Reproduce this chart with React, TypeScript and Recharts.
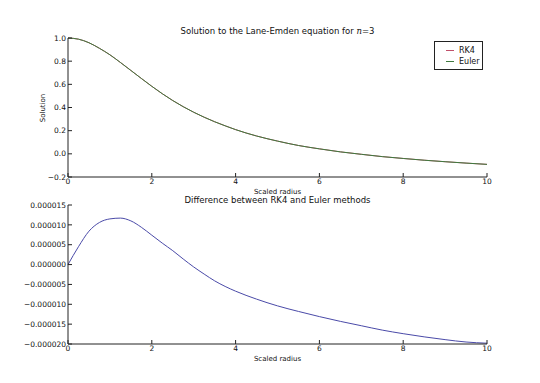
import React from "react";
import { LineChart, Line, XAxis, YAxis } from "recharts";

// scaled radius samples
const radius = [
  0, 0.25, 0.5, 0.75, 1, 1.25, 1.5, 1.75, 2, 2.25, 2.5, 2.75, 3, 3.25, 3.5,
  3.75, 4, 4.5, 5, 5.5, 6, 6.5, 7, 7.5, 8, 8.5, 9, 9.5, 10,
];

// theta(xi)
const rk4 = [
  1.0, 0.99, 0.959, 0.911, 0.855, 0.789, 0.72, 0.651, 0.583, 0.519, 0.46,
  0.407, 0.359, 0.316, 0.277, 0.242, 0.209, 0.154, 0.11, 0.072, 0.043, 0.017,
  -0.004, -0.024, -0.04, -0.055, -0.068, -0.08, -0.091,
];
const euler = [
  1.0, 0.99, 0.959, 0.911, 0.855, 0.789, 0.72, 0.651, 0.583, 0.519, 0.46,
  0.407, 0.359, 0.316, 0.277, 0.242, 0.209, 0.154, 0.11, 0.072, 0.043, 0.017,
  -0.004, -0.024, -0.04, -0.055, -0.068, -0.08, -0.091,
];

// RK4 - Euler, in units of 1e-6
const diffMicro = [
  0, 4.5, 8.4, 10.6, 11.5, 11.7, 11.0, 9.4, 7.4, 5.4, 3.5, 1.4, -0.6, -2.4,
  -4.1, -5.5, -6.7, -8.7, -10.4, -11.8, -13.1, -14.3, -15.4, -16.5, -17.4,
  -18.2, -18.9, -19.5, -19.8,
];

const xTicks = [0, 2, 4, 6, 8, 10];
const topYTicks = [-0.2, 0, 0.2, 0.4, 0.6, 0.8, 1.0];
const bottomYTicks = [
  -0.00002, -0.000015, -0.00001, -0.000005, 0, 0.000005, 0.00001, 0.000015,
];

const topData = radius.map((x, i) => ({ x, rk4: rk4[i], euler: euler[i] }));
const bottomData = radius.map((x, i) => ({ x, diff: diffMicro[i] * 1e-6 }));

const font = "'DejaVu Sans', sans-serif";
const axisColor = "#222";
const tickStyle = { fontSize: 7.5, fill: "#111", fontFamily: font };
const rk4Color = "#c0506a";
const eulerColor = "#3f7a3f";

const minus = (s: string) => s.replace("-", "\u2212");

const NoLabel = () => <g />;

const textStyle: React.CSSProperties = {
  position: "absolute",
  fontFamily: font,
  color: "#111",
  whiteSpace: "nowrap",
};

const LegendBox = () => (
  <div
    style={{
      position: "absolute",
      left: 434,
      top: 41,
      width: 47,
      border: "1px solid #222",
      background: "#fff",
      padding: "3px 0 2px 0",
      fontFamily: font,
      fontSize: 8,
      color: "#111",
    }}
  >
    {[
      { name: "RK4", color: rk4Color },
      { name: "Euler", color: eulerColor },
    ].map((e) => (
      <div key={e.name} style={{ display: "flex", alignItems: "center", height: 11 }}>
        <div style={{ width: 8, height: 1, background: e.color, marginLeft: 11, marginRight: 5 }} />
        <span>{e.name}</span>
      </div>
    ))}
  </div>
);

export default function App() {
  return (
    <div style={{ position: "absolute", left: 0, top: 0, width: 540, height: 383, background: "#fff" }}>
      <div style={{ position: "absolute", left: 0, top: 0 }}>
        <LineChart width={540} height={200} data={topData} margin={{ top: 38, right: 53, left: 0, bottom: 0 }}>
          <XAxis
            dataKey="x"
            type="number"
            domain={[0, 10]}
            ticks={xTicks}
            interval={0}
            height={23}
            tickSize={-4}
            tickMargin={6}
            stroke={axisColor}
            tick={tickStyle}
          />
          <XAxis
            xAxisId="top"
            dataKey="x"
            type="number"
            orientation="top"
            domain={[0, 10]}
            ticks={xTicks}
            interval={0}
            height={0}
            tickSize={-4}
            stroke={axisColor}
            tick={NoLabel}
          />
          <YAxis
            type="number"
            domain={[-0.2, 1.0]}
            ticks={topYTicks}
            interval={0}
            width={68}
            tickSize={-4}
            tickMargin={6}
            stroke={axisColor}
            tick={tickStyle}
            tickFormatter={(v: number) => minus(v.toFixed(1))}
          />
          <YAxis
            yAxisId="right"
            orientation="right"
            type="number"
            domain={[-0.2, 1.0]}
            ticks={topYTicks}
            interval={0}
            width={0}
            tickSize={-4}
            stroke={axisColor}
            tick={NoLabel}
          />
          <Line dataKey="rk4" name="RK4" stroke={rk4Color} strokeWidth={1} dot={false} isAnimationActive={false} type="monotone" />
          <Line dataKey="euler" name="Euler" stroke={eulerColor} strokeWidth={1} dot={false} isAnimationActive={false} type="monotone" />
        </LineChart>
      </div>

      <div style={{ position: "absolute", left: 0, top: 200 }}>
        <LineChart width={540} height={170} data={bottomData} margin={{ top: 5, right: 53, left: 0, bottom: 0 }}>
          <XAxis
            dataKey="x"
            type="number"
            domain={[0, 10]}
            ticks={xTicks}
            interval={0}
            height={26}
            tickSize={-4}
            tickMargin={6}
            stroke={axisColor}
            tick={tickStyle}
          />
          <XAxis
            xAxisId="top"
            dataKey="x"
            type="number"
            orientation="top"
            domain={[0, 10]}
            ticks={xTicks}
            interval={0}
            height={0}
            tickSize={-4}
            stroke={axisColor}
            tick={NoLabel}
          />
          <YAxis
            type="number"
            domain={[-0.00002, 0.000015]}
            ticks={bottomYTicks}
            interval={0}
            width={68}
            tickSize={-4}
            tickMargin={6}
            stroke={axisColor}
            tick={tickStyle}
            tickFormatter={(v: number) => minus(v.toFixed(6))}
          />
          <YAxis
            yAxisId="right"
            orientation="right"
            type="number"
            domain={[-0.00002, 0.000015]}
            ticks={bottomYTicks}
            interval={0}
            width={0}
            tickSize={-4}
            stroke={axisColor}
            tick={NoLabel}
          />
          <Line dataKey="diff" stroke="#4a4aa8" strokeWidth={1} dot={false} isAnimationActive={false} type="monotone" />
        </LineChart>
      </div>

      <LegendBox />

      <div style={{ ...textStyle, left: 0, width: 555, top: 26, fontSize: 8.5, textAlign: "center" }}>
        Solution to the Lane-Emden equation for <i style={{ fontFamily: "'DejaVu Serif', serif" }}>n</i>=3
      </div>
      <div
        style={{
          ...textStyle,
          left: 43,
          top: 108,
          fontSize: 7,
          transform: "translate(-50%, -50%) rotate(-90deg)",
        }}
      >
        Solution
      </div>
      <div style={{ ...textStyle, left: 0, width: 555, top: 188, fontSize: 7, textAlign: "center" }}>
        Scaled radius
      </div>
      <div style={{ ...textStyle, left: 0, width: 555, top: 195, fontSize: 8.5, textAlign: "center" }}>
        Difference between RK4 and Euler methods
      </div>
      <div style={{ ...textStyle, left: 0, width: 555, top: 355, fontSize: 7, textAlign: "center" }}>
        Scaled radius
      </div>
    </div>
  );
}
